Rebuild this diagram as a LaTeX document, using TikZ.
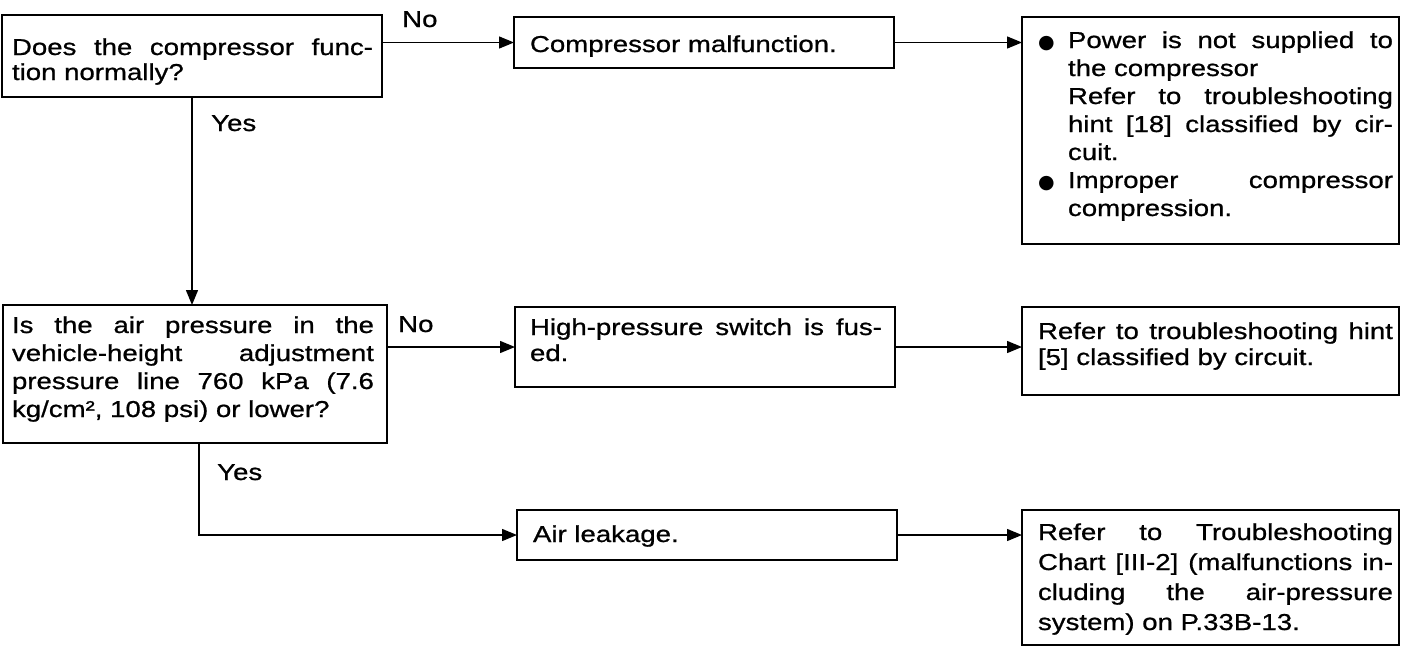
\documentclass[tikz,border=0pt]{standalone}
\usepackage{fontspec}
\setmainfont{Liberation Sans}[FakeStretch=1.2,FakeBold=0.8]
\newfontfamily\symfont{DejaVu Sans}
\usetikzlibrary{arrows.meta}
% #1 box width, #2 box height, #3 left pad, #4 text width, #5 first baseline, #6 baselineskip, #7 text
\newcommand{\bt}[7]{\parbox[c][#2][t]{#1}{\vspace*{\dimexpr#5-18pt\relax}\hspace*{#3}\parbox[t]{#4}{\fontsize{23pt}{#6}\selectfont\rule{0pt}{18pt}#7}}}
\newcommand{\jl}[1]{\makebox[\linewidth][s]{#1}\par}
\newcommand{\bul}{\makebox[30pt][l]{\symfont\fontsize{19pt}{19pt}\selectfont ●}}
\begin{document}
\begin{tikzpicture}[x=1pt,y=-1pt,
  box/.style={draw, line width=2.4pt, inner sep=0pt, outer sep=0pt, anchor=north west},
  conn/.style={line width=1.4pt, -{Triangle[length=15pt,width=12pt]}},
  lbl/.style={inner sep=0pt, anchor=base west, font=\fontsize{23pt}{26pt}\selectfont}]
\useasboundingbox (0,0) rectangle (1405,648);
\fill[white] (0,0) rectangle (1405,648);
\node[box] (A) at (2,15) {\bt{380pt}{82pt}{10pt}{361pt}{40pt}{25pt}{\jl{Does the compressor func-}tion normally?}};
\node[box] (B) at (514,17) {\bt{380pt}{51pt}{16pt}{350pt}{35pt}{26pt}{Compressor malfunction.}};
\node[box] (C) at (1022,17) {\bt{377pt}{227pt}{16pt}{355pt}{31pt}{28pt}{%
\bul\makebox[325pt][s]{Power is not supplied to}\par
\hspace*{30pt}the compressor\par
\hspace*{30pt}\makebox[325pt][s]{Refer to troubleshooting}\par
\hspace*{30pt}\makebox[325pt][s]{hint [18] classified by cir-}\par
\hspace*{30pt}cuit.\par
\bul\makebox[325pt][s]{Improper compressor}\par
\hspace*{30pt}compression.}};
\node[box] (D) at (3,305) {\bt{384pt}{138pt}{9pt}{362pt}{28pt}{28pt}{\jl{Is the air pressure in the}\jl{vehicle-height adjustment}\jl{pressure line 760 kPa (7.6}kg/cm², 108 psi) or lower?}};
\node[box] (E) at (515,307) {\bt{380pt}{80pt}{15pt}{352pt}{28pt}{26pt}{\jl{High-pressure switch is fus-}ed.}};
\node[box] (F) at (1022,307) {\bt{377pt}{88pt}{16pt}{355pt}{32pt}{26pt}{\jl{Refer to troubleshooting hint}{[5] classified by circuit.}}};
\node[box] (G) at (517,510) {\bt{380pt}{50pt}{16pt}{350pt}{32pt}{26pt}{Air leakage.}};
\node[box] (H) at (1022,510) {\bt{377pt}{135pt}{16pt}{355pt}{30pt}{30pt}{\jl{Refer to Troubleshooting}\jl{Chart [III-2] (malfunctions in-}\jl{cluding the air-pressure}system) on P.33B-13.}};
\draw[conn] (B.west -| A.east) -- (B.west);
\draw[conn] (B.east) -- (B.east -| C.west);
\draw[conn] (A.south) -- (A.south |- D.north);
\draw[conn] (E.west -| D.east) -- (E.west);
\draw[conn] (E.east) -- (E.east -| F.west);
\draw[conn] ([xshift=4pt]D.south) |- (G.west);
\draw[conn] (G.east) -- (G.east -| H.west);
\node[lbl] (no1) at (402,27) {No};
\node[lbl] (yes1) at (211,131) {Yes};
\node[lbl] (no2) at (398,332) {No};
\node[lbl] (yes2) at (217,480) {Yes};
\end{tikzpicture}
\end{document}
